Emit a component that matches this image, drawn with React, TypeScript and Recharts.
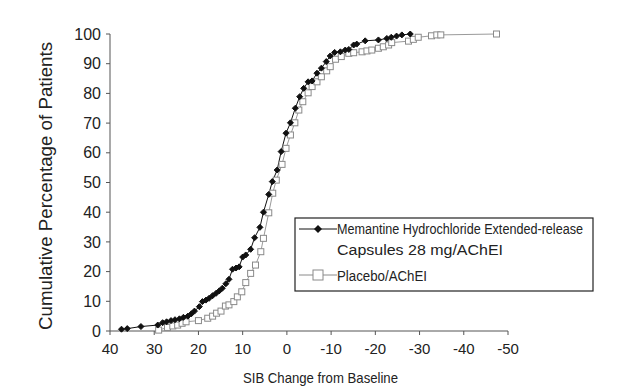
import React from "react";
import { LineChart, Line, XAxis, YAxis } from "recharts";

// SIB change from baseline (x) and cumulative % of patients (y)
const memantineChange = [
  37.4, 36.1, 33, 29.2, 28.1, 27.2, 26.2, 25.3, 24.3, 23.4, 22.4, 21.6, 20.9, 19.8, 19.1, 18.3,
  17.6, 16.8, 16, 15.3, 14.6, 13.8, 13.1, 12.3, 11.5, 10.8, 10, 9.3, 8.2, 7.3, 6.1, 5.3, 4.1,
  3.3, 2.2, 1.3, 0.2, -0.8, -1.9, -2.9, -3.8, -4.8, -5.7, -6.8, -7.8, -8.9, -9.8, -10.8, -12.1,
  -13.2, -14, -15.1, -15.8, -17.7, -20.7, -22.6, -23.6, -24.8, -26, -27.9,
];
const memantinePct = [
  0.6, 0.8, 1.5, 2, 2.8, 3.1, 3.5, 3.8, 4.1, 4.6, 5, 5.8, 6.7, 8.2, 9.9, 10.4,
  11, 11.9, 12.7, 13.5, 14.4, 15.9, 17.4, 20.8, 21.2, 21.6, 24.9, 25.6, 27.5, 31.4, 34.9, 40, 46,
  50.3, 54.2, 60.4, 66.6, 70.1, 75, 78.9, 81.7, 83.9, 84.2, 86.8, 88.5, 90.7, 92.6, 93.8, 94,
  94.6, 94.8, 96.3, 96.6, 97.7, 98, 98.5, 98.9, 99.3, 99.7, 100,
];

const placeboChange = [
  29, 27, 25.8, 24.7, 23.7, 22.8, 20, 17.9, 16.8, 15.9, 14.9, 13.9, 13.1, 12, 11.2, 10.2, 9.3,
  8.2, 7.1, 5.9, 5.3, 4.1, 3.2, 2.4, 1.1, 0.2, -0.8, -1.8, -2.7, -3.6, -4.8, -5.7, -6.8, -7.8,
  -9, -9.8, -11, -12.3, -14, -15.1, -17, -18.1, -19.2, -20.7, -21.8, -23, -23.7, -27.5, -28.6,
  -29.7, -32.7, -33.9, -34.8, -47.4,
];
const placeboPct = [
  0.3, 1.2, 1.7, 2, 2.6, 3.1, 3.5, 4.3, 5, 6, 6.7, 8.4, 8.8, 9.9, 11.5, 13.2, 16.3,
  19.4, 22.2, 26.7, 31.2, 39.8, 46.4, 50.8, 56.1, 61.5, 66, 70.1, 74.4, 77.2, 80.2, 82.3, 83.9, 85.6,
  87.6, 89, 91.5, 92.4, 93.5, 93.7, 94, 94.3, 94.6, 95.2, 95.7, 96.3, 97.1, 97.6, 98.2,
  98.9, 99.4, 99.7, 99.7, 100,
];

const xTicks = [40, 30, 20, 10, 0, -10, -20, -30, -40, -50];
const yTicks = [0, 10, 20, 30, 40, 50, 60, 70, 80, 90, 100];

const memantineData = memantineChange.map((x, i) => ({ x, y: memantinePct[i] }));
const placeboData = placeboChange.map((x, i) => ({ x, y: placeboPct[i] }));

const font = "'Liberation Sans', Arial, sans-serif";

function Diamond(props: any) {
  const { cx, cy } = props;
  if (cx == null || cy == null) return null;
  const r = 3;
  return (
    <polygon
      points={`${cx},${cy - r} ${cx + r},${cy} ${cx},${cy + r} ${cx - r},${cy}`}
      fill="#111"
      stroke="#111"
    />
  );
}

function Square(props: any) {
  const { cx, cy } = props;
  if (cx == null || cy == null) return null;
  return <rect x={cx - 3} y={cy - 3} width={6} height={6} fill="#fff" stroke="#8a8a8a" strokeWidth={1} />;
}

// narrow condensed text, squeezed to the width seen in the reference
function NarrowText({ x, y, w, size, children, rotate }: any) {
  return (
    <text
      x={x}
      y={y}
      fontSize={size}
      fontFamily={font}
      fill="#222"
      textAnchor={rotate ? "middle" : "start"}
      textLength={w}
      lengthAdjust="spacingAndGlyphs"
      transform={rotate ? `rotate(-90 ${x} ${y})` : undefined}
    >
      {children}
    </text>
  );
}

function LegendBox() {
  return (
    <svg width={325} height={75} style={{ position: "absolute", left: 294, top: 217, overflow: "visible" }}>
      <rect x={1} y={1} width={298} height={73} fill="#fff" stroke="#222" strokeWidth={1.2} />
      <line x1={5} y1={12} x2={43} y2={12} stroke="#111" strokeWidth={1} />
      <polygon points="24,8 28,12 24,16 20,12" fill="#111" />
      <line x1={5} y1={58} x2={43} y2={58} stroke="#8a8a8a" strokeWidth={1} />
      <rect x={19} y={53} width={10} height={10} fill="#fff" stroke="#8a8a8a" />
      <NarrowText x={43} y={17} w={246} size={14}>Memantine Hydrochloride Extended-release</NarrowText>
      <NarrowText x={43} y={38} w={166} size={14}>Capsules 28 mg/AChEI</NarrowText>
      <NarrowText x={43} y={64} w={90} size={14}>Placebo/AChEI</NarrowText>
    </svg>
  );
}

export default function App() {
  return (
    <div style={{ width: 619, height: 388, background: "#fff", position: "relative" }}>
      <style>{`body{margin:0;background:#fff}`}</style>
      <LineChart width={619} height={388} margin={{ top: 34, right: 111, left: 0, bottom: 0 }}>
        <XAxis
          dataKey="x"
          type="number"
          domain={[-50, 40]}
          reversed
          ticks={xTicks}
          allowDuplicatedCategory={false}
          tick={{ fontSize: 15, fill: "#222", fontFamily: font }}
          tickSize={4}
          tickMargin={8}
          stroke="#555"
          height={57}
          label={{
            content: () => (
              <NarrowText x={243} y={383} w={155} size={15}>
                SIB Change from Baseline
              </NarrowText>
            ),
          }}
        />
        <YAxis
          dataKey="y"
          type="number"
          domain={[0, 100]}
          ticks={yTicks}
          tick={{ fontSize: 16, fill: "#222", fontFamily: font }}
          tickSize={4}
          tickMargin={5}
          stroke="#555"
          width={110}
          label={{
            content: () => (
              <NarrowText x={52} y={186} w={288} size={18} rotate>
                Cumulative Percentage of Patients
              </NarrowText>
            ),
          }}
        />
        <Line
          data={placeboData}
          dataKey="y"
          stroke="#9a9a9a"
          strokeWidth={1}
          dot={<Square />}
          isAnimationActive={false}
        />
        <Line
          data={memantineData}
          dataKey="y"
          stroke="#111"
          strokeWidth={1}
          dot={<Diamond />}
          isAnimationActive={false}
        />
      </LineChart>
      <LegendBox />
    </div>
  );
}
